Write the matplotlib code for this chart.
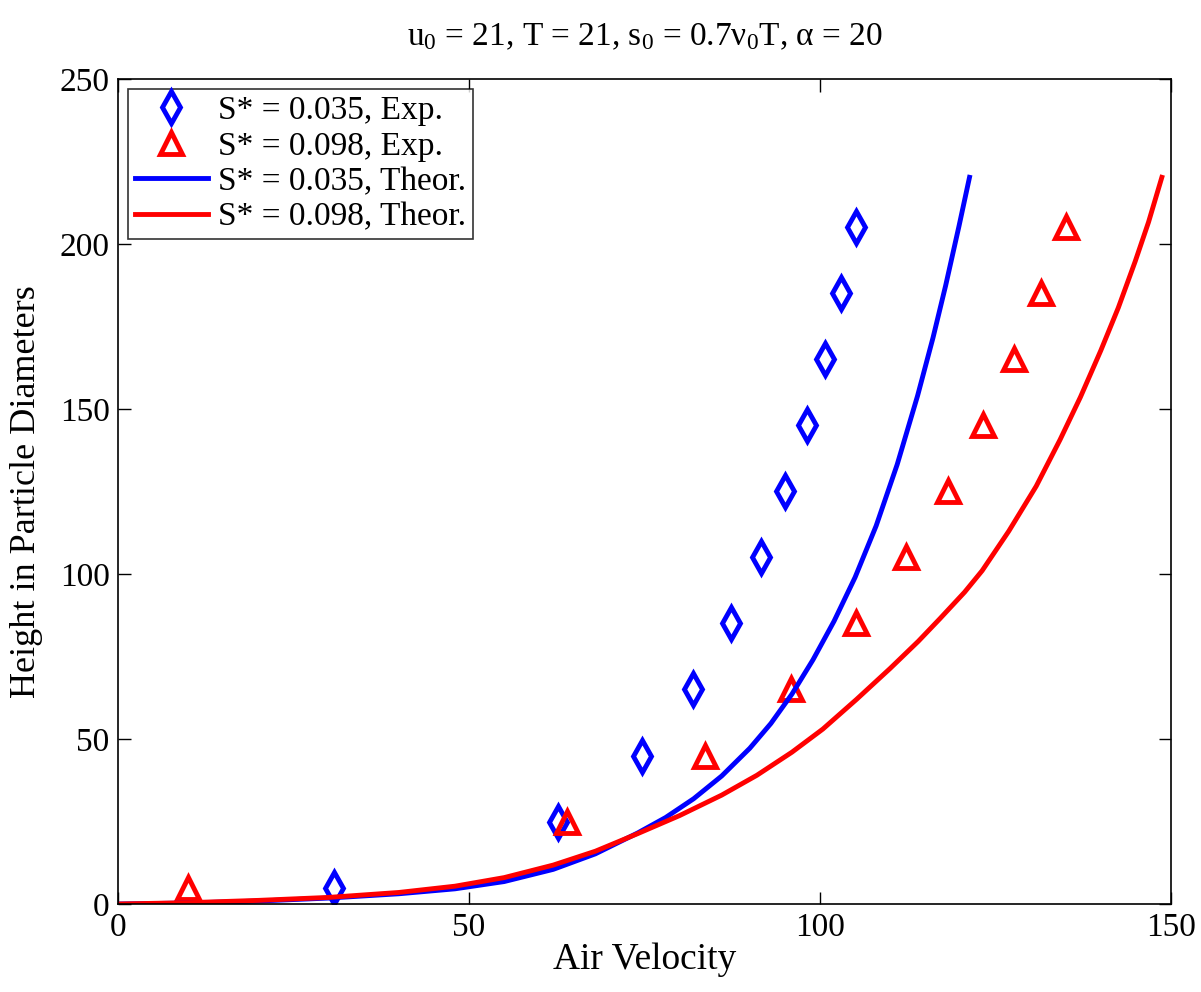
import matplotlib
matplotlib.use('Agg')
import matplotlib.pyplot as plt

plt.rcParams['font.family'] = ['Liberation Serif', 'DejaVu Serif']
plt.rcParams['mathtext.fontset'] = 'custom'
plt.rcParams['mathtext.rm'] = 'Liberation Serif'
plt.rcParams['mathtext.it'] = 'Liberation Serif:italic'

exp_h = [5, 25, 45, 65, 85, 105, 125, 145, 165, 185, 205]
exp_v_035 = [30.7, 62.7, 74.6, 81.9, 87.3, 91.6, 95.0, 98.1, 100.7, 103.0, 105.1]
exp_v_098 = [9.9, 63.9, 83.6, 95.9, 105.1, 112.2, 118.2, 123.2, 127.6, 131.5, 135.0]

# theoretical curves (sampled off the figure)
th_v_035 = [0, 10, 20, 30, 40, 48, 55, 62, 68, 74, 78, 82, 86, 90, 93, 96, 99,
            102, 105, 108, 111, 113.9, 116.1, 117.9, 119.8, 121.3]
th_h_035 = [0, 0.3, 0.9, 1.8, 3.1, 4.6, 6.8, 10.5, 15.2, 21.5, 26.2, 31.9, 38.8,
            47.2, 54.7, 63.6, 74.0, 85.7, 99.0, 114.6, 133.2, 154.0, 171.6,
            187.4, 205.4, 220.2]
th_v_098 = [0, 10, 20, 30, 40, 48, 55, 62, 68, 74, 80, 86, 91, 96, 100.4, 105.2,
            110, 114, 117.1, 120.6, 123.1, 126.9, 130.8, 134.2, 137.1, 140,
            142.5, 144.9, 146.8, 148.7]
th_h_098 = [0, 0.4, 1.1, 2.0, 3.5, 5.4, 8.0, 11.8, 16.0, 21.3, 26.8, 33.0, 39.0,
            46.0, 53.0, 62.0, 71.4, 79.6, 86.5, 94.5, 101.0, 113.0, 126.6, 140.7,
            153.6, 167.7, 180.7, 194.7, 206.6, 220.2]

fig = plt.figure(figsize=(12.01, 9.92), dpi=100)
ax = fig.add_axes([0.0983, 0.0887, 0.8767, 0.8317])

ax.plot(exp_v_035, exp_h, linestyle='none', marker='d', markersize=16,
        markerfacecolor='none', markeredgecolor='#0000ff', markeredgewidth=3.5,
        label='S* = 0.035, Exp.')
ax.plot(exp_v_098, exp_h, linestyle='none', marker='^', markersize=16,
        markerfacecolor='none', markeredgecolor='#ff0000', markeredgewidth=3.5,
        label='S* = 0.098, Exp.')
ax.plot(th_v_035, th_h_035, color='#0000ff', linewidth=3.5, label='S* = 0.035, Theor.')
ax.plot(th_v_098, th_h_098, color='#ff0000', linewidth=3.5, label='S* = 0.098, Theor.')

ax.set_xlim(0, 150)
ax.set_ylim(0, 250)
ax.set_xticks([0, 50, 100, 150])
ax.set_yticks([0, 50, 100, 150, 200, 250])
ax.tick_params(direction='in', length=9, width=1, top=True, right=True,
               labelsize=24, pad=6)
for s in ax.spines.values():
    s.set_linewidth(1.2)

ax.set_xlabel('Air Velocity', fontsize=27, labelpad=0)
ax.set_ylabel('Height in Particle Diameters', fontsize=26, labelpad=12)
ax.set_title('u$_0$ = 21, T = 21, s$_0$ = 0.7ν$_0$T, α = 20', fontsize=24, pad=24)

leg = ax.legend(loc='upper left', fontsize=24, frameon=True, fancybox=False,
                edgecolor='black', borderaxespad=0.3, handlelength=2.2,
                handletextpad=0.3, borderpad=0.2, labelspacing=0.15)
leg.get_frame().set_linewidth(1.2)

fig.savefig('out.png', dpi=100)
